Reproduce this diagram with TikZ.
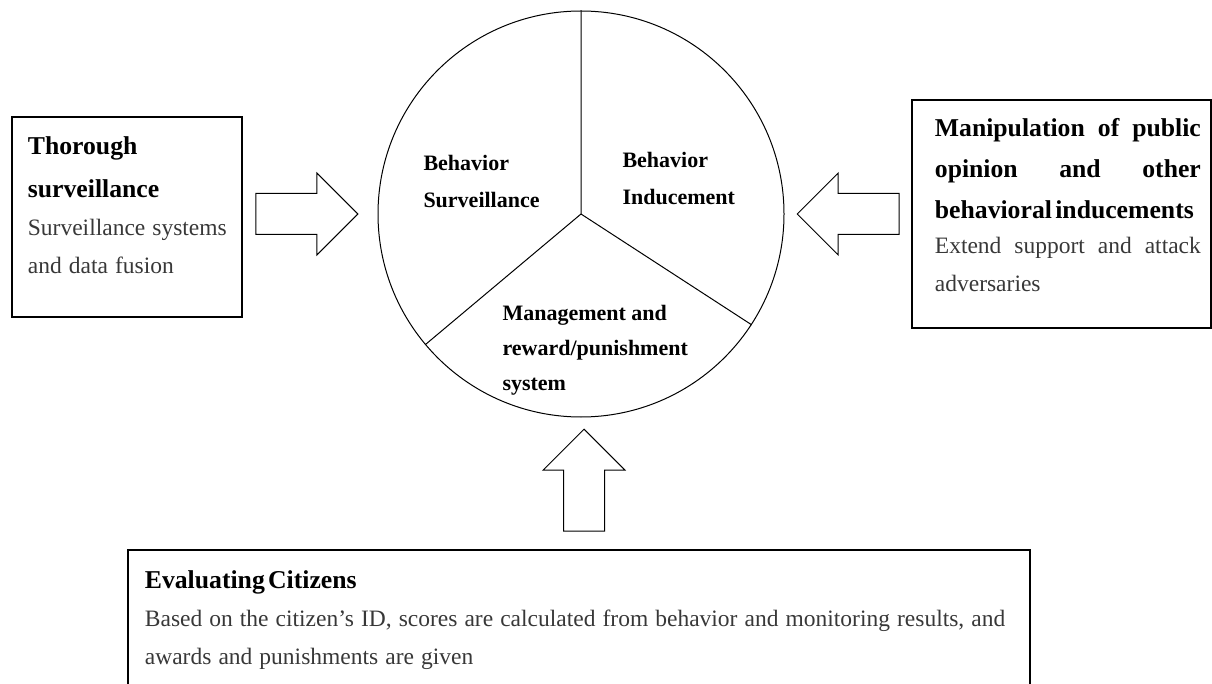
\documentclass[tikz,border=0pt]{standalone}
\usepackage{fontspec}
\setmainfont{Liberation Serif}
\usetikzlibrary{positioning,calc,shapes.arrows}
\newcommand\headfont{\fontsize{25.7}{41}\selectfont\bfseries}
\newcommand\bodyfont{\fontsize{23.5}{38}\selectfont\mdseries\spaceskip=.3em\xspaceskip=.3em\color{black!78}}
\newcommand\wedgefont{\fontsize{22}{37}\selectfont\bfseries}
\newcommand\fullline[1]{{\spaceskip=.25em plus 1fill\makebox[266pt][s]{#1}}}

\begin{document}
\begin{tikzpicture}[x=1pt,y=-1pt,line width=1pt,
  panel/.style={draw,rectangle,inner sep=0pt,line width=1.2pt},
  blurb/.style={inner sep=0pt,align=left},
  wedge/.style={inner sep=0pt,align=left,font=\wedgefont,anchor=north west},
  bigarrow/.style={draw,single arrow,single arrow head extend=20.5pt,minimum height=102pt,inner sep=20pt,anchor=tip}]
 \useasboundingbox (0,0) rectangle (1212,684);
 \clip (0,0) rectangle (1212,684);
 \node[circle,draw,minimum size=406pt,inner sep=0pt] (wheel) at (581,214) {};
 \draw (wheel.center) -- (wheel.90) (wheel.center) -- (wheel.220) (wheel.center) -- (wheel.-33);
 \node[wedge] (survlabel) at (423,155) {Behavior\\Surveillance};
 \node[wedge] (inducelabel) at (622,152) {Behavior\\Inducement};
 \node[wedge] (rewardlabel) at (502,305) {Management and\\[-2pt]reward/punishment\\[-2pt]system};

 \node[panel,minimum width=230pt,minimum height=200pt] (surv) at (127,217) {};
 \node[blurb,text width=215pt,below right=20pt and 16pt of surv.north west] (survtext)
  {\headfont Thorough\\[2pt]surveillance\par\bodyfont Surveillance systems\\and data fusion\par};
 \node[panel,minimum width=299pt,minimum height=228pt] (induce) at (1061.5,214) {};
 \node[blurb,text width=270pt,below right=19pt and 23pt of induce.north west] (inducetext)
  {\headfont\fullline{Manipulation of public}\\\fullline{opinion and other}\\behavioral inducements\par
   \vspace{-3pt}\bodyfont\fullline{Extend support and attack}\\adversaries\par};
 \node[panel,minimum width=902pt,minimum height=180pt] (evalc) at (579,640) {};
 \node[blurb,text width=900pt,below right=21pt and 17pt of evalc.north west] (evaltext)
  {\headfont Evaluating Citizens\par
   \bodyfont Based on the citizen's ID, scores are calculated from behavior and monitoring results, and\\awards and punishments are given\par};

 \node[bigarrow] (fromLeft) at ([xshift=-19pt]wheel.west) {};
 \node[bigarrow,shape border rotate=180] (fromRight) at ([xshift=12pt]wheel.east) {};
 \node[bigarrow,shape border rotate=90] (fromBelow) at ($(wheel.south)+(3,11)$) {};
\end{tikzpicture}
\end{document}
